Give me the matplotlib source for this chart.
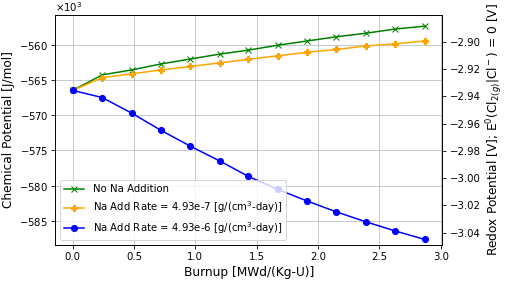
import matplotlib
matplotlib.use("Agg")
import matplotlib.pyplot as plt

# Burnup points [MWd/(Kg-U)]
burnup = [0.0, 0.24, 0.48, 0.72, 0.96, 1.20, 1.43, 1.67, 1.91, 2.15, 2.39, 2.63, 2.87]

# Chemical potential [J/mol]
mu_no_na = [-566500, -564300, -563600, -562750, -562050, -561350, -560800,
            -560100, -559500, -558900, -558400, -557800, -557400]
mu_na_low = [-566500, -564700, -564150, -563600, -563100, -562600, -562100,
             -561600, -561100, -560700, -560200, -559900, -559500]
mu_na_high = [-566500, -567500, -569700, -572150, -574400, -576500, -578650,
              -580500, -582150, -583700, -585100, -586400, -587600]

labels = ["No Na Addition",
          "Na Add Rate = 4.93e-7 [g/(cm$^3$-day)]",
          "Na Add Rate = 4.93e-6 [g/(cm$^3$-day)]"]

FARADAY = 96485.0
N_ELEC = 2

# the reference looks like a larger default-styled figure scaled down,
# so render at a low dpi instead of shrinking every font by hand
DPI = 73
fig, ax = plt.subplots(figsize=(505 / DPI, 286 / DPI), dpi=DPI)
fig.subplots_adjust(left=0.109, right=0.876, top=0.948, bottom=0.143)

ax.plot(burnup, mu_no_na, color="green", marker="x", markersize=5, label=labels[0])
ax.plot(burnup, mu_na_low, color="orange", marker="P", markersize=5.5, label=labels[1])
ax.plot(burnup, mu_na_high, color="blue", marker="o", label=labels[2])

ax.ticklabel_format(axis="y", style="sci", scilimits=(3, 3), useMathText=True)
ax.set_ylim(-588.4e3, -555.8e3)
ax.set_xlabel("Burnup [MWd/(Kg-U)]", fontsize=12)
ax.set_ylabel("Chemical Potential [J/mol]", fontsize=12)
ax.grid(True, color="#b8c0c4")
ax.legend(loc="lower left")

# Right axis: redox potential E = mu / (n F)
ax2 = ax.twinx()
lo, hi = ax.get_ylim()
ax2.set_ylim(lo / (N_ELEC * FARADAY), hi / (N_ELEC * FARADAY))
ax2.set_ylabel("Redox Potential [V]; E$^0$(Cl$_{2(g)}$|Cl$^-$) = 0 [V]",
               fontsize=12)

fig.savefig("out.png", dpi=DPI)
